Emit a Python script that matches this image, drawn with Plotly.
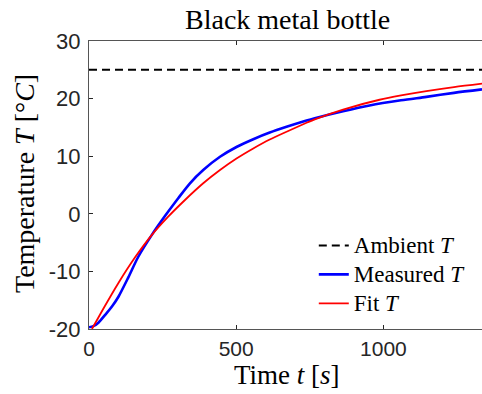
import plotly.graph_objects as go

# Ambient temperature
ambient_t = [0, 1335]
ambient_T = [25, 25]

# Measured temperature
measured_t = [0, 15, 32, 54, 78, 100, 134, 167, 213, 258, 303, 343, 388, 445, 501, 558, 614, 671, 739, 767, 863, 953, 1060, 1146, 1240, 1335]
measured_T = [-19.7, -19.5, -18.9, -17.6, -16.1, -14.4, -11.0, -7.5, -3.7, -0.4, 2.7, 5.3, 7.6, 9.9, 11.6, 12.95, 14.1, 15.1, 16.2, 16.6, 17.8, 18.8, 19.7, 20.3, 21.0, 21.6]

# Fitted temperature
fit_t = [10, 54, 100, 156, 213, 269, 326, 388, 445, 501, 558, 614, 671, 739, 767, 863, 987, 1060, 1146, 1240, 1335]
fit_T = [-20.0, -16.0, -12.0, -7.6, -3.7, -0.5, 2.4, 5.3, 7.6, 9.6, 11.35, 12.9, 14.25, 15.8, 16.4, 18.1, 19.8, 20.55, 21.3, 22.0, 22.6]

x_ticks = [0, 500, 1000]
y_ticks = [-20, -10, 0, 10, 20, 30]
y_tick_labels = ["-20", "-10", "0", "10", "20", "30"]

serif = "Liberation Serif"
sans = "Liberation Sans"
axis_col = "#262626"


def leg(label):
    return "<span style='font-size:23px'>" + label + "</span>"


fig = go.Figure()
fig.add_trace(go.Scatter(x=ambient_t, y=ambient_T, mode="lines", name=leg("Ambient <i>T</i>"),
                         line=dict(color="black", width=2, dash="8px,5px")))
fig.add_trace(go.Scatter(x=measured_t, y=measured_T, mode="lines", name=leg("Measured <i>T</i>"),
                         line=dict(color="#0000ff", width=2.6, shape="spline", smoothing=0.8)))
fig.add_trace(go.Scatter(x=fit_t, y=fit_T, mode="lines", name=leg("Fit <i>T</i>"),
                         line=dict(color="#ff0000", width=1.8, shape="spline", smoothing=0.8)))

fig.update_layout(
    width=482, height=394,
    margin=dict(l=89, r=0, t=41, b=65, autoexpand=False),
    paper_bgcolor="white", plot_bgcolor="white",
    showlegend=True,
    legend=dict(x=0.572, y=0.358, xanchor="left", yanchor="top",
                bgcolor="rgba(0,0,0,0)", borderwidth=0,
                font=dict(family=serif, size=20, color="black"),
                tracegroupgap=0),
    xaxis=dict(range=[0, 1335], tickvals=x_ticks, ticks="inside", ticklen=4,
               tickcolor=axis_col, showline=True, linecolor="#555", linewidth=1,
               mirror="ticks", showgrid=False, zeroline=False, automargin=False,
               ticklabelstandoff=1,
               tickfont=dict(family=sans, size=21, color=axis_col)),
    yaxis=dict(range=[-20, 30], tickvals=y_ticks, ticktext=y_tick_labels,
               ticks="inside", ticklen=4,
               tickcolor=axis_col, showline=True, linecolor="#555", linewidth=1,
               showgrid=False, zeroline=False, ticklabelstandoff=3, automargin=False,
               tickfont=dict(family=sans, size=22, color=axis_col)),
    annotations=[
        dict(text="Black metal bottle", x=0.506, y=1.0, xref="paper", yref="paper",
             xanchor="center", yanchor="bottom", yshift=4, showarrow=False,
             font=dict(family=serif, size=28, color="black")),
        dict(text="Time <i>t</i> [<i>s</i>]", x=0.504, y=0, xref="paper", yref="paper",
             xanchor="center", yanchor="top", yshift=-30, borderpad=0, showarrow=False,
             font=dict(family=serif, size=27, color="black")),
        dict(text="Temperature <i>T</i> [°<i>C</i>]", x=0, y=0.5, xref="paper", yref="paper",
             xanchor="center", yanchor="middle", xshift=-65, yshift=1, textangle=-90,
             showarrow=False,
             font=dict(family=serif, size=28, color="black")),
    ],
)

fig.write_html("out.html", config={"displayModeBar": False},
               post_script="document.body.style.margin='0';document.body.style.overflow='hidden';")
